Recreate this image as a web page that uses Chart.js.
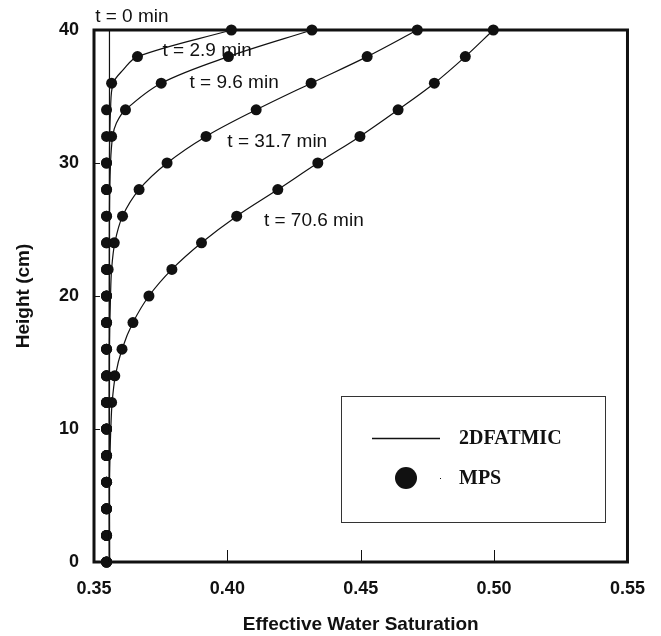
<!DOCTYPE html>
<html>
<head>
<meta charset="utf-8">
<script src="https://cdn.jsdelivr.net/npm/chart.js@4.4.1/dist/chart.umd.min.js"></script>
<style>
  html, body { margin: 0; padding: 0; background: #fff; }
  #wrap { width: 661px; height: 636px; }
</style>
</head>
<body>
<div id="wrap"><canvas id="chart" width="661" height="636"></canvas></div>
<script>
// tick labels
const xTickLabels = ['0.35', '0.40', '0.45', '0.50', '0.55'];
const yTickLabels = ['0', '10', '20', '30', '40'];

// MPS measurements (heights in cm, saturation values)
const mpsHeights = [0, 2, 4, 6, 8, 10, 12, 14, 16, 18, 20, 22, 24, 26, 28, 30, 32, 34, 36, 38, 40];
const mps29  = [0.3547, 0.3547, 0.3547, 0.3547, 0.3547, 0.3547, 0.3547, 0.3547, 0.3547, 0.3547, 0.3547, 0.3547, 0.3547, 0.3547, 0.3547, 0.3547, 0.3547, 0.3547, 0.3566, 0.3663, 0.4015];
const mps96  = [0.3547, 0.3547, 0.3547, 0.3547, 0.3547, 0.3547, 0.3547, 0.3547, 0.3547, 0.3547, 0.3547, 0.3547, 0.3547, 0.3547, 0.3547, 0.3547, 0.3566, 0.3618, 0.3752, 0.4004, 0.4317];
const mps317 = [0.3547, 0.3547, 0.3547, 0.3547, 0.3547, 0.3547, 0.3547, 0.3547, 0.3547, 0.3547, 0.3547, 0.3553, 0.3576, 0.3607, 0.3669, 0.3774, 0.3920, 0.4108, 0.4314, 0.4524, 0.4712];
const mps706 = [0.3547, 0.3547, 0.3547, 0.3547, 0.3547, 0.3547, 0.3566, 0.3578, 0.3605, 0.3646, 0.3706, 0.3792, 0.3903, 0.4035, 0.4189, 0.4339, 0.4497, 0.4640, 0.4776, 0.4892, 0.4997];

// 2DFATMIC simulated profiles
const simH0   = [0, 40];
const sim0    = [0.3558, 0.3558];
const simH29  = [0, 30, 34, 36, 37, 38, 40];
const sim29   = [0.3558, 0.3558, 0.3562, 0.3572, 0.3609, 0.3663, 0.4015];
const simH96  = [0, 26, 30, 32, 33, 34, 36, 38, 40];
const sim96   = [0.3558, 0.3558, 0.3562, 0.3570, 0.3584, 0.3618, 0.3752, 0.4004, 0.4317];
const simH317 = [0, 16, 20, 22, 24, 26, 28, 30, 32, 34, 36, 38, 40];
const sim317  = [0.3558, 0.3558, 0.3562, 0.3566, 0.3578, 0.3607, 0.3669, 0.3774, 0.3920, 0.4108, 0.4314, 0.4524, 0.4712];
const simH706 = [0, 6, 8, 10, 12, 14, 16, 18, 20, 22, 24, 26, 28, 30, 32, 34, 36, 38, 40];
const sim706  = [0.3558, 0.3558, 0.3560, 0.3563, 0.3568, 0.3580, 0.3605, 0.3646, 0.3706, 0.3792, 0.3903, 0.4035, 0.4189, 0.4339, 0.4497, 0.4640, 0.4776, 0.4892, 0.4997];

// curve labels
const curveLabels = ['t = 0 min', 't = 2.9 min', 't = 9.6 min', 't = 31.7 min', 't = 70.6 min'];

const pts = (xs, hs) => xs.map((v, i) => ({ x: v, y: hs[i] }));

const lineSet = (xs, hs) => ({
    label: '2DFATMIC',
    data: pts(xs, hs),
    showLine: true,
    borderColor: '#111',
    borderWidth: 1.2,
    pointRadius: 0,
    tension: 0.35,
    clip: false
});
const dotSet = (xs) => ({
    label: 'MPS',
    data: pts(xs, mpsHeights),
    showLine: false,
    pointRadius: 5.5,
    pointBackgroundColor: '#111',
    pointBorderColor: '#111',
    pointBorderWidth: 0,
    clip: false
});

const overlay = {
    id: 'overlay',
    beforeDatasetsDraw(chart) {
        const { ctx, chartArea: a, scales: { x, y } } = chart;
        ctx.save();
        // frame
        ctx.strokeStyle = '#111';
        ctx.lineWidth = 3;
        ctx.strokeRect(a.left, a.top, a.right - a.left, a.bottom - a.top);
        // inward ticks
        ctx.lineWidth = 1;
        x.ticks.forEach(t => {
            const px = Math.round(x.getPixelForValue(t.value)) + 0.5;
            ctx.beginPath(); ctx.moveTo(px, a.bottom); ctx.lineTo(px, a.bottom - 12); ctx.stroke();
        });
        y.ticks.forEach(t => {
            const py = Math.round(y.getPixelForValue(t.value)) + 0.5;
            ctx.beginPath(); ctx.moveTo(a.left, py); ctx.lineTo(a.left + 6, py); ctx.stroke();
        });
        ctx.restore();
    },
    afterDatasetsDraw(chart) {
        const { ctx, scales: { x, y } } = chart;
        ctx.save();
        // curve labels
        ctx.fillStyle = '#111';
        ctx.font = '19px "Liberation Sans", Arial, sans-serif';
        ctx.textBaseline = 'middle';
        ctx.textAlign = 'center';
        ctx.fillText(curveLabels[0], x.getPixelForValue(0.3642), y.getPixelForValue(41.0));
        ctx.textAlign = 'left';
        ctx.fillText(curveLabels[1], x.getPixelForValue(0.3757), y.getPixelForValue(38.42));
        ctx.fillText(curveLabels[2], x.getPixelForValue(0.3858), y.getPixelForValue(36.07));
        ctx.fillText(curveLabels[3], x.getPixelForValue(0.4000), y.getPixelForValue(31.6));
        ctx.fillText(curveLabels[4], x.getPixelForValue(0.4137), y.getPixelForValue(25.66));
        // legend
        ctx.fillStyle = '#fff';
        ctx.fillRect(341, 396, 264, 126);
        ctx.strokeStyle = '#333';
        ctx.lineWidth = 1;
        ctx.strokeRect(341.5, 396.5, 264, 126);
        ctx.strokeStyle = '#111';
        ctx.lineWidth = 1.3;
        ctx.beginPath(); ctx.moveTo(372, 438.5); ctx.lineTo(440, 438.5); ctx.stroke();
        ctx.fillStyle = '#111';
        ctx.beginPath(); ctx.arc(406, 478, 11, 0, Math.PI * 2); ctx.fill();
        ctx.fillRect(440, 478, 1, 1);
        ctx.font = 'bold 20px "Liberation Serif", "Times New Roman", serif';
        ctx.fillText('2DFATMIC', 459, 439);
        ctx.fillText('MPS', 459, 479);
        ctx.restore();
    }
};

new Chart(document.getElementById('chart').getContext('2d'), {
    type: 'scatter',
    data: {
        datasets: [
            lineSet(sim0, simH0),
            lineSet(sim29, simH29),
            lineSet(sim96, simH96),
            lineSet(sim317, simH317),
            lineSet(sim706, simH706),
            dotSet(mps29),
            dotSet(mps96),
            dotSet(mps317),
            dotSet(mps706)
        ]
    },
    options: {
        responsive: false,
        animation: false,
        layout: { padding: { top: 30, right: 30, left: 0, bottom: 0 } },
        plugins: { legend: { display: false }, tooltip: { enabled: false } },
        scales: {
            x: {
                type: 'linear',
                min: 0.35,
                max: 0.55,
                afterFit: s => { s.height = 74; },
                ticks: {
                    stepSize: 0.05,
                    padding: 16,
                    color: '#111',
                    font: { family: '"Liberation Sans", Arial, sans-serif', size: 18, weight: 'bold' },
                    callback: (v, i) => xTickLabels[i]
                },
                grid: { display: false, drawTicks: false },
                border: { display: false },
                title: {
                    display: true,
                    text: 'Effective Water Saturation',
                    color: '#111',
                    padding: { top: 0, bottom: 0 },
                    font: { family: '"Liberation Sans", Arial, sans-serif', size: 19, weight: 'bold' }
                }
            },
            y: {
                type: 'linear',
                min: 0,
                max: 40,
                afterFit: s => { s.width = 94; },
                ticks: {
                    stepSize: 10,
                    padding: 15,
                    color: '#111',
                    font: { family: '"Liberation Sans", Arial, sans-serif', size: 18, weight: 'bold' },
                    callback: (v, i) => yTickLabels[i]
                },
                grid: { display: false, drawTicks: false },
                border: { display: false },
                title: {
                    display: true,
                    text: 'Height (cm)',
                    color: '#111',
                    padding: { top: 12, bottom: 0 },
                    font: { family: '"Liberation Sans", Arial, sans-serif', size: 19, weight: 'bold' }
                }
            }
        }
    },
    plugins: [overlay]
});
</script>
</body>
</html>
